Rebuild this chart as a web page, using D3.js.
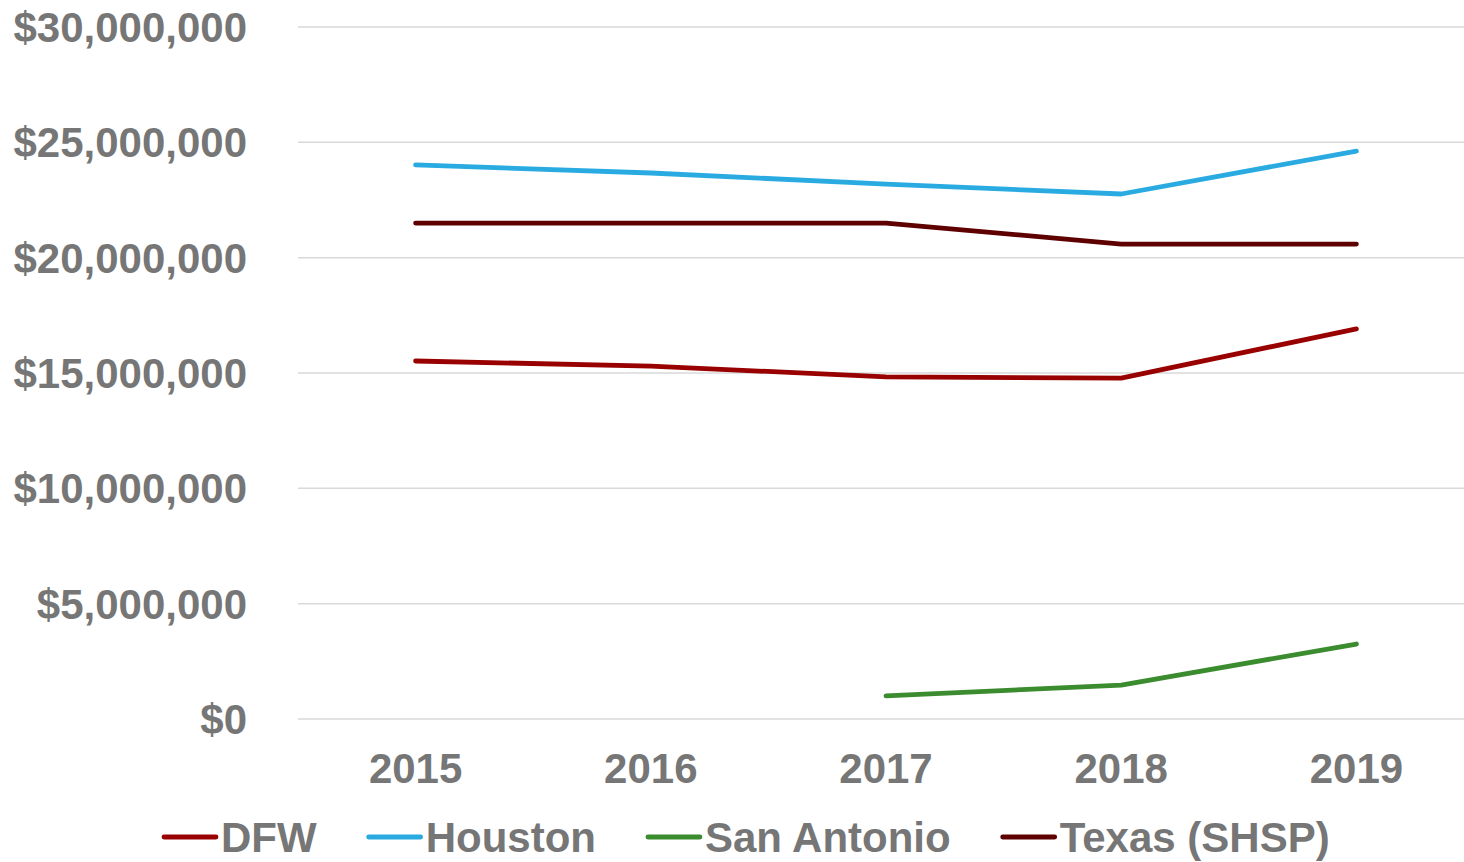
<!DOCTYPE html>
<html>
<head>
    <meta charset='utf-8' />
    <title>Funding by region</title>
    <script src="https://d3js.org/d3.v7.min.js" charset="utf-8"></script>
    <style>
        body {
            margin: 0;
            background: #fff;
            font-family: "Liberation Sans", Arial, sans-serif;
        }
        text {
            font-weight: bold;
            fill: #767676;
        }
        .grid line {
            stroke: #d9d9d9;
            stroke-width: 1.5;
        }
        .series {
            fill: none;
            stroke-width: 4.8;
            stroke-linecap: round;
            stroke-linejoin: round;
        }
    </style>
</head>
<body>
<script>
    var years = ["2015", "2016", "2017", "2018", "2019"];
    var yTicks = [0, 5000000, 10000000, 15000000, 20000000, 25000000, 30000000];

    var dfw = [15520000, 15300000, 14830000, 14780000, 16910000];
    var houston = [24020000, 23670000, 23190000, 22760000, 24620000];
    var sanAntonio = [null, null, 1000000, 1470000, 3250000];
    var texas = [21500000, 21500000, 21500000, 20590000, 20590000];

    var seriesNames = ["DFW", "Houston", "San Antonio", "Texas (SHSP)"];
    var seriesColors = ["#990000", "#29abe2", "#3b8c2e", "#5e0000"];
    var seriesValues = [dfw, houston, sanAntonio, texas];

    var width = 1464, height = 862;

    var svg = d3.select("body").append("svg")
        .attr("width", width)
        .attr("height", height);

    var x = d3.scaleBand()
        .domain(years)
        .range([298, 1474])
        .padding(0);

    var y = d3.scaleLinear()
        .domain([0, 30000000])
        .range([719, 27]);

    var fmt = function (v) { return "$" + d3.format(",")(v); };

    // gridlines
    svg.append("g")
        .attr("class", "grid")
        .selectAll("line")
        .data(yTicks)
        .enter()
        .append("line")
        .attr("x1", 298)
        .attr("x2", 1474)
        .attr("y1", function (d) { return y(d); })
        .attr("y2", function (d) { return y(d); });

    // y labels
    svg.append("g")
        .selectAll("text")
        .data(yTicks)
        .enter()
        .append("text")
        .attr("x", 247)
        .attr("y", function (d) { return y(d); })
        .attr("dy", "0.36em")
        .attr("text-anchor", "end")
        .style("font-size", "42px")
        .text(fmt);

    // x labels
    svg.append("g")
        .selectAll("text")
        .data(years)
        .enter()
        .append("text")
        .attr("x", function (d) { return x(d) + x.bandwidth() / 2; })
        .attr("y", 783)
        .attr("text-anchor", "middle")
        .style("font-size", "42px")
        .text(function (d) { return d; });

    var line = d3.line()
        .defined(function (d) { return d != null; })
        .x(function (d, i) { return x(years[i]) + x.bandwidth() / 2; })
        .y(function (d) { return y(d); });

    svg.selectAll(".series")
        .data(seriesValues)
        .enter()
        .append("path")
        .attr("class", "series")
        .attr("stroke", function (d, i) { return seriesColors[i]; })
        .attr("d", line);

    // legend
    var legend = svg.append("g");
    var lx = 164, ly = 837;
    seriesNames.forEach(function (name, i) {
        var g = legend.append("g").attr("transform", "translate(" + lx + "," + ly + ")");
        g.append("line")
            .attr("x1", 0).attr("x2", 52)
            .attr("y1", 0).attr("y2", 0)
            .attr("stroke", seriesColors[i])
            .attr("stroke-width", 4.8)
            .attr("stroke-linecap", "round");
        var t = g.append("text")
            .attr("x", 57)
            .attr("y", 0)
            .attr("dy", "0.36em")
            .style("font-size", "42px")
            .text(name);
        lx += 57 + t.node().getComputedTextLength() + 52;
    });
</script>
</body>
</html>
